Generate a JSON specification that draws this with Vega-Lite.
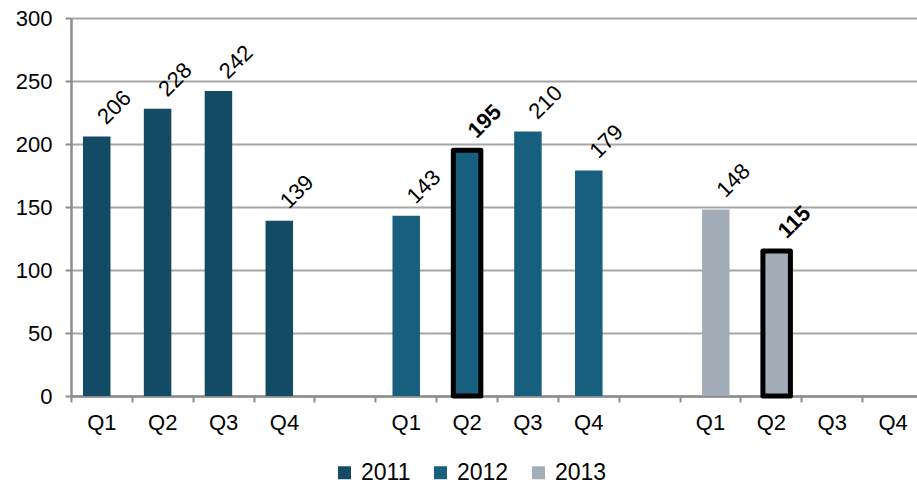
{
  "$schema": "https://vega.github.io/schema/vega-lite/v6.json",
  "width": 846,
  "height": 378,
  "autosize": {"type": "none"},
  "padding": {"left": 71, "top": 18, "right": 0, "bottom": 89},
  "config": {
    "font": "Liberation Sans",
    "view": {"stroke": null},
    "axis": {"labelColor": "#000000", "labelFont": "Liberation Sans", "labelFontSize": 22, "title": null}
  },
  "data": {
    "values": [
      {"period": "2011 Q1", "year": "2011", "quarter": "Q1", "value": 206},
      {"period": "2011 Q2", "year": "2011", "quarter": "Q2", "value": 228},
      {"period": "2011 Q3", "year": "2011", "quarter": "Q3", "value": 242},
      {"period": "2011 Q4", "year": "2011", "quarter": "Q4", "value": 139},
      {"period": "2012 Q1", "year": "2012", "quarter": "Q1", "value": 143},
      {"period": "2012 Q2", "year": "2012", "quarter": "Q2", "value": 195},
      {"period": "2012 Q3", "year": "2012", "quarter": "Q3", "value": 210},
      {"period": "2012 Q4", "year": "2012", "quarter": "Q4", "value": 179},
      {"period": "2013 Q1", "year": "2013", "quarter": "Q1", "value": 148},
      {"period": "2013 Q2", "year": "2013", "quarter": "Q2", "value": 115}
    ]
  },
  "encoding": {
    "x": {
      "field": "period",
      "type": "nominal",
      "scale": {
        "domain": ["2011 Q1", "2011 Q2", "2011 Q3", "2011 Q4", "gap1", "2012 Q1", "2012 Q2", "2012 Q3", "2012 Q4", "gap2", "2013 Q1", "2013 Q2", "2013 Q3", "2013 Q4"],
        "range": [0, 852],
        "paddingInner": 0,
        "paddingOuter": 0
      },
      "axis": {
        "labelExpr": "indexof(datum.label, 'gap') >= 0 ? '' : substring(datum.label, 5)",
        "labelAngle": 0,
        "labelPadding": 10,
        "tickBand": "extent",
        "tickSize": 6,
        "tickWidth": 2,
        "tickColor": "#8c8c8c",
        "domainColor": "#8c8c8c",
        "domainWidth": 2.5,
        "grid": false
      }
    },
    "y": {
      "field": "value",
      "type": "quantitative",
      "scale": {"domain": [0, 300], "nice": false},
      "axis": {
        "values": [0, 50, 100, 150, 200, 250, 300],
        "tickSize": 6,
        "tickWidth": 2,
        "tickColor": "#8c8c8c",
        "labelPadding": 13,
        "domainColor": "#8c8c8c",
        "domainWidth": 2.5,
        "grid": true,
        "gridColor": "#a6a6a6",
        "gridWidth": 2
      }
    },
    "color": {
      "field": "year",
      "type": "nominal",
      "scale": {"domain": ["2011", "2012", "2013"], "range": ["#134b65", "#185e7d", "#a3adb8"]},
      "legend": {
        "title": null,
        "orient": "none",
        "direction": "horizontal",
        "legendX": 262,
        "legendY": 443,
        "padding": 0,
        "symbolType": "square",
        "symbolSize": 169,
        "symbolStrokeWidth": 0,
        "labelFontSize": 23,
        "labelFont": "Liberation Sans",
        "labelColor": "#000000",
        "labelOffset": 5,
        "columnPadding": 18
      }
    }
  },
  "layer": [
    {
      "transform": [{"filter": "datum.year == '2011'"}],
      "mark": {"type": "bar", "width": 27.5, "xOffset": -4.7}
    },
    {
      "transform": [{"filter": "datum.year == '2012'"}],
      "mark": {"type": "bar", "width": 27.5, "xOffset": 0.5, "strokeJoin": "round"},
      "encoding": {
        "stroke": {"condition": {"test": "datum.quarter == 'Q2'", "value": "#000000"}, "value": "transparent"},
        "strokeWidth": {"condition": {"test": "datum.quarter == 'Q2'", "value": 5}, "value": 0}
      }
    },
    {
      "transform": [{"filter": "datum.year == '2013'"}],
      "mark": {"type": "bar", "width": 27.5, "xOffset": 5.8, "strokeJoin": "round"},
      "encoding": {
        "stroke": {"condition": {"test": "datum.quarter == 'Q2'", "value": "#000000"}, "value": "transparent"},
        "strokeWidth": {"condition": {"test": "datum.quarter == 'Q2'", "value": 5}, "value": 0}
      }
    },
    {
      "transform": [{"filter": "datum.year == '2011'"}],
      "mark": {"type": "text", "xOffset": -4.7, "angle": -45, "align": "center", "baseline": "middle", "dx": 33, "dy": -8, "fontSize": 22, "font": "Liberation Sans", "color": "#000000"},
      "encoding": {"text": {"field": "value", "type": "quantitative"}, "color": {"value": "#000000"}}
    },
    {
      "transform": [{"filter": "datum.year == '2012' && datum.quarter != 'Q2'"}],
      "mark": {"type": "text", "xOffset": 0.5, "angle": -45, "align": "center", "baseline": "middle", "dx": 33, "dy": -8, "fontSize": 22, "font": "Liberation Sans"},
      "encoding": {"text": {"field": "value", "type": "quantitative"}, "color": {"value": "#000000"}}
    },
    {
      "transform": [{"filter": "datum.year == '2012' && datum.quarter == 'Q2'"}],
      "mark": {"type": "text", "xOffset": 0.5, "angle": -45, "align": "center", "baseline": "middle", "dx": 33, "dy": -8, "fontSize": 22, "font": "Liberation Sans", "fontWeight": "bold"},
      "encoding": {"text": {"field": "value", "type": "quantitative"}, "color": {"value": "#000000"}}
    },
    {
      "transform": [{"filter": "datum.year == '2013' && datum.quarter != 'Q2'"}],
      "mark": {"type": "text", "xOffset": 5.8, "angle": -45, "align": "center", "baseline": "middle", "dx": 33, "dy": -8, "fontSize": 22, "font": "Liberation Sans"},
      "encoding": {"text": {"field": "value", "type": "quantitative"}, "color": {"value": "#000000"}}
    },
    {
      "transform": [{"filter": "datum.year == '2013' && datum.quarter == 'Q2'"}],
      "mark": {"type": "text", "xOffset": 5.8, "angle": -45, "align": "center", "baseline": "middle", "dx": 33, "dy": -8, "fontSize": 22, "font": "Liberation Sans", "fontWeight": "bold"},
      "encoding": {"text": {"field": "value", "type": "quantitative"}, "color": {"value": "#000000"}}
    }
  ]
}
